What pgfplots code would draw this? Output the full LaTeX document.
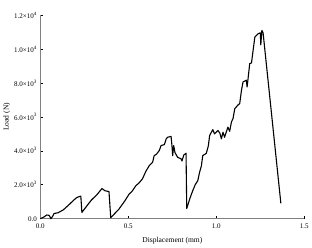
\documentclass[border=0pt]{standalone}
\usepackage{pgfplots}
\pgfplotsset{compat=1.18}
\usepackage{fontspec}
\setmainfont{Liberation Serif}
\begin{document}
\begin{tikzpicture}
\begin{axis}[
  name=main,
  scale only axis,
  width=263pt, height=203pt,
  xmin=0, xmax=1.5, ymin=0, ymax=12000,
  scaled y ticks=false, scaled x ticks=false,
  axis lines*=left,
  axis line style={gray, line width=1.2pt, -},
  tick align=inside,
  major tick length=3pt,
  tick style={black, line width=0.6pt},
  xtick={0,0.5,1.0,1.5},
  xticklabels={0.0,0.5,1.0,1.5},
  ytick={0,2000,4000,6000,8000,10000,12000},
  yticklabels={0.0,2.0×10\textsuperscript{3},4.0×10\textsuperscript{3},6.0×10\textsuperscript{3},8.0×10\textsuperscript{3},1.0×10\textsuperscript{4},1.2×10\textsuperscript{4}},
  ticklabel style={font=\fontsize{7}{8}\selectfont},
  xticklabel style={yshift=-2pt},
  label style={font=\fontsize{7.5}{8}\selectfont},
  xlabel={Displacement (mm)},
  ylabel={Load (N)},
  xlabel style={yshift=-1pt},
  ylabel style={yshift=-3pt},
  clip=false,
]
\addplot[black, line width=1.1pt, line join=round] coordinates {
(0,0) (0.02,100) (0.036,220) (0.05,200) (0.06,0) (0.07,150) (0.078,310) (0.10,350)
(0.13,520) (0.16,800) (0.19,1100) (0.207,1250) (0.22,1300) (0.23,1330) (0.236,370)
(0.26,700) (0.29,1100) (0.32,1400) (0.34,1650) (0.35,1780) (0.367,1650) (0.39,1600) (0.40,60)
(0.447,573) (0.48,1050) (0.505,1460) (0.52,1600) (0.543,1950) (0.56,2100) (0.58,2345)
(0.60,2800) (0.619,3130) (0.638,3330) (0.647,3720) (0.66,3800) (0.676,4020) (0.686,4310)
(0.705,4370) (0.715,4700) (0.723,4800) (0.743,4850) (0.748,4300) (0.752,3720) (0.758,4310)
(0.765,3900) (0.78,3620) (0.80,3530) (0.805,3400) (0.815,3750) (0.828,3860) (0.832,600)
(0.85,1200) (0.866,1650) (0.88,2000) (0.895,2250) (0.905,2740) (0.915,3100) (0.923,3720)
(0.943,3850) (0.955,4300) (0.962,4900) (0.98,5250) (0.99,5000) (1.0,5100) (1.009,5200)
(1.02,5050) (1.029,4710) (1.038,5100) (1.047,4800) (1.055,5050) (1.066,5400) (1.076,5150)
(1.086,5700) (1.095,5900) (1.105,6480) (1.123,6700) (1.133,6780) (1.143,7560) (1.152,8060)
(1.171,8160) (1.175,7760) (1.18,8200) (1.19,9140) (1.2,9180) (1.219,10700) (1.238,10900)
(1.25,10950) (1.253,10250) (1.259,11100) (1.266,10950) (1.367,905)
};
\end{axis}
\path ([yshift=15pt]main.north west) -- ([yshift=-28pt]main.south west);
\end{tikzpicture}
\end{document}
